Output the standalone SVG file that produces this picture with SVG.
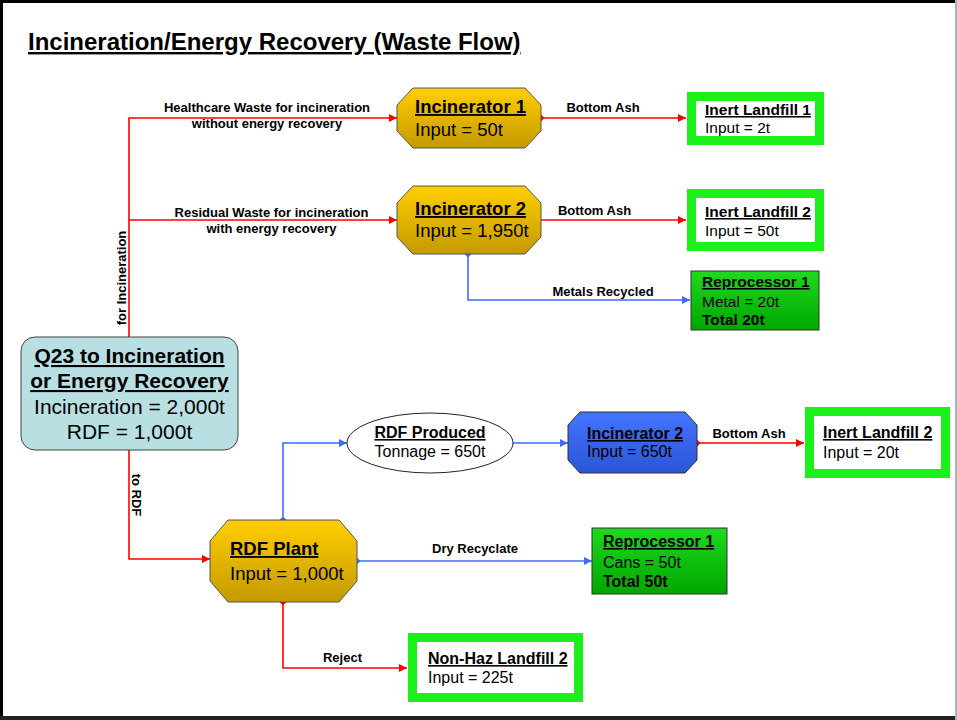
<svg xmlns="http://www.w3.org/2000/svg" width="957" height="720" viewBox="0 0 957 720">
<defs>
<style>
text{font-family:"Liberation Sans",Arial,sans-serif;fill:#000}
.b{font-weight:bold}
.u{text-decoration:underline}
.lbl{font-size:13px;font-weight:bold;text-anchor:middle}
.red{fill:none;stroke:#FF0000;stroke-width:1.6}
.blue{fill:none;stroke:#3D6BFF;stroke-width:1.6}
.lf{fill:#fff;stroke:#1BF01B;stroke-width:9}
.oct{fill:url(#gold);stroke:#555;stroke-width:1}
.rep{fill:url(#grn);stroke:#333;stroke-width:1}
</style>
<linearGradient id="gold" x1="0" y1="0" x2="0" y2="1"><stop offset="0" stop-color="#FFCE00"/><stop offset="1" stop-color="#C49A00"/></linearGradient>
<linearGradient id="grn" x1="0" y1="0" x2="0" y2="1"><stop offset="0" stop-color="#1EDA1E"/><stop offset="1" stop-color="#00A600"/></linearGradient>
<linearGradient id="blu" x1="0" y1="0" x2="0" y2="1"><stop offset="0" stop-color="#4474FF"/><stop offset="1" stop-color="#2A55D6"/></linearGradient>
<marker id="aR" viewBox="0 0 10 10" refX="10" refY="5" markerWidth="10" markerHeight="8" markerUnits="userSpaceOnUse" orient="auto"><path d="M0,0 L10,5 L0,10 z" fill="#FF0000"/></marker>
<marker id="aB" viewBox="0 0 10 10" refX="10" refY="5" markerWidth="10" markerHeight="8" markerUnits="userSpaceOnUse" orient="auto"><path d="M0,0 L10,5 L0,10 z" fill="#3D6BFF"/></marker>
<marker id="dR" viewBox="0 0 10 10" refX="5" refY="5" markerWidth="7" markerHeight="7" markerUnits="userSpaceOnUse"><path d="M5,0 L10,5 L5,10 L0,5 z" fill="#FF0000"/></marker>
<marker id="dB" viewBox="0 0 10 10" refX="5" refY="5" markerWidth="7" markerHeight="7" markerUnits="userSpaceOnUse"><path d="M5,0 L10,5 L5,10 L0,5 z" fill="#3D6BFF"/></marker>
</defs>
<rect x="0" y="0" width="957" height="720" fill="#fff"/>
<rect x="0" y="0" width="957" height="3" fill="#000"/>
<rect x="0" y="0" width="3" height="720" fill="#000"/>
<rect x="0" y="716" width="957" height="4" fill="#222"/>
<rect x="955" y="0" width="2" height="720" fill="#b0b0b0"/>
<text x="28" y="50" class="b u" font-size="24">Incineration/Energy Recovery (Waste Flow)</text>

<g id="connectors">
<path class="red" d="M129,337 V118 H397" marker-end="url(#aR)"/>
<path class="red" d="M129,220 H397" marker-end="url(#aR)"/>
<path class="red" d="M541,118 H686" marker-start="url(#dR)" marker-end="url(#aR)"/>
<path class="red" d="M541,220 H686" marker-end="url(#aR)"/>
<path class="blue" d="M468,254 V300 H690" marker-start="url(#dB)" marker-end="url(#aB)"/>
<path class="red" d="M129,450 V559 H210" marker-end="url(#aR)"/>
<path class="blue" d="M283,520 V443 H347" marker-start="url(#dB)" marker-end="url(#aB)"/>
<path class="blue" d="M513,443 H568" marker-end="url(#aB)"/>
<path class="red" d="M697,443 H804" marker-start="url(#dR)" marker-end="url(#aR)"/>
<path class="blue" d="M357,561 H592" marker-start="url(#dB)" marker-end="url(#aB)"/>
<path class="red" d="M283,602 V668 H407" marker-start="url(#dR)" marker-end="url(#aR)"/>
<text class="lbl" x="267" y="112">Healthcare Waste for incineration</text>
<text class="lbl" x="267" y="128">without energy recovery</text>
<text class="lbl" x="271.5" y="217">Residual Waste for incineration</text>
<text class="lbl" x="271.5" y="233">with energy recovery</text>
<text class="lbl" x="603" y="112">Bottom Ash</text>
<text class="lbl" x="594.5" y="215">Bottom Ash</text>
<text class="lbl" x="603" y="296">Metals Recycled</text>
<text class="lbl" x="475" y="553">Dry Recyclate</text>
<text class="lbl" x="749" y="438">Bottom Ash</text>
<text class="lbl" x="342.5" y="662">Reject</text>
<text class="lbl" transform="translate(126,278) rotate(-90)">for Incineration</text>
<text class="lbl" transform="translate(132,495) rotate(90)">to RDF</text>
</g>

<g id="q23">
<rect x="21" y="337" width="217" height="113" rx="14" fill="#B8DFE1" stroke="#444" stroke-width="1"/>
<text x="129.5" y="363" font-size="21" class="b u" text-anchor="middle">Q23 to Incineration</text>
<text x="129.5" y="388" font-size="21" class="b u" text-anchor="middle">or Energy Recovery</text>
<text x="129.5" y="414" font-size="21" text-anchor="middle">Incineration = 2,000t</text>
<text x="129.5" y="439" font-size="21" text-anchor="middle">RDF = 1,000t</text>
</g>

<g id="incinerator1">
<polygon class="oct" points="413,88 525,88 541,105 541,131 525,148 413,148 397,131 397,105"/>
<text x="415" y="113" font-size="18.5" class="b u">Incinerator 1</text>
<text x="415" y="136" font-size="18.5">Input = 50t</text>
</g>

<g id="incinerator2">
<polygon class="oct" points="413,186 525,186 541,203 541,237 525,254 413,254 397,237 397,203"/>
<text x="415" y="215" font-size="18.5" class="b u">Incinerator 2</text>
<text x="415" y="237" font-size="18.5">Input = 1,950t</text>
</g>

<g id="inertLandfill1">
<rect class="lf" x="691.5" y="96.5" width="128" height="44"/>
<text x="705" y="115" font-size="15.5" class="b u">Inert Landfill 1</text>
<text x="705" y="133" font-size="15.5">Input = 2t</text>
</g>

<g id="inertLandfill2a">
<rect class="lf" x="691.5" y="193.5" width="128" height="53"/>
<text x="705" y="217" font-size="15.5" class="b u">Inert Landfill 2</text>
<text x="705" y="236" font-size="15.5">Input = 50t</text>
</g>

<g id="reprocessor1a">
<rect class="rep" x="691" y="271" width="128" height="59"/>
<text x="702" y="287" font-size="15.5" class="b u">Reprocessor 1</text>
<text x="702" y="307" font-size="15.5">Metal = 20t</text>
<text x="702" y="325" font-size="15.5" class="b">Total 20t</text>
</g>

<g id="rdfPlant">
<polygon class="oct" points="228,520 339,520 357,541 357,581 339,602 228,602 210,581 210,541"/>
<text x="230" y="555" font-size="18.5" class="b u">RDF Plant</text>
<text x="230" y="580" font-size="18.5">Input = 1,000t</text>
</g>

<g id="rdfProduced">
<ellipse cx="430" cy="443" rx="83" ry="30" fill="#fff" stroke="#222" stroke-width="1"/>
<text x="430" y="438" font-size="16" class="b u" text-anchor="middle">RDF Produced</text>
<text x="430" y="457" font-size="16" text-anchor="middle">Tonnage = 650t</text>
</g>

<g id="incinerator2b">
<polygon points="580,412 685,412 697,425 697,460 685,473 580,473 568,460 568,425" fill="url(#blu)" stroke="#333" stroke-width="1"/>
<text x="587" y="439" font-size="16" class="b u">Incinerator 2</text>
<text x="587" y="457" font-size="16">Input = 650t</text>
</g>

<g id="inertLandfill2b">
<rect class="lf" x="809.5" y="411.5" width="136" height="62"/>
<text x="823" y="438" font-size="16" class="b u">Inert Landfill 2</text>
<text x="823" y="458" font-size="16">Input = 20t</text>
</g>

<g id="reprocessor1b">
<rect class="rep" x="592" y="528" width="135" height="66"/>
<text x="603" y="547" font-size="16" class="b u">Reprocessor 1</text>
<text x="603" y="568" font-size="16">Cans = 50t</text>
<text x="603" y="587" font-size="16" class="b">Total 50t</text>
</g>

<g id="nonHazLandfill2">
<rect class="lf" x="412.5" y="637.5" width="166" height="60"/>
<text x="428" y="664" font-size="16" class="b u">Non-Haz Landfill 2</text>
<text x="428" y="683" font-size="16">Input = 225t</text>
</g>
</svg>
